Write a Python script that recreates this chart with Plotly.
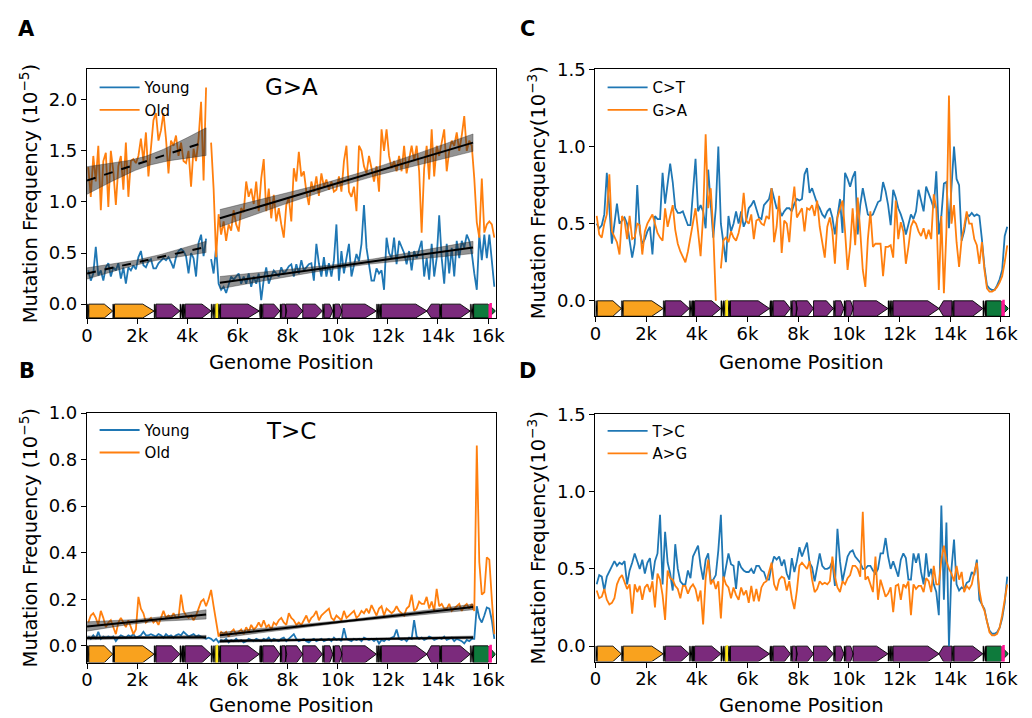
import numpy as np
import plotly.graph_objects as go

FONT = "DejaVu Sans"

# ---------------- data ----------------
POS = list(range(50, 16300, 100))  # bin centres (bp)

A_YOUNG = [0.33, 0.23, 0.30, 0.56, 0.28, 0.33, 0.23, 0.36, 0.40, 0.27,
           0.36, 0.33, 0.40, 0.25, 0.36, 0.20, 0.36, 0.33, 0.38, 0.34,
           0.46, 0.52, 0.38, 0.36, 0.42, 0.44, 0.35, 0.35, 0.40, 0.43,
           0.45, 0.43, 0.46, 0.41, 0.35, 0.46, 0.52, 0.54, 0.52, 0.47,
           0.30, 0.50, 0.45, 0.27, 0.60, 0.68, 0.47, 0.64, None, 0.44,
           0.30, 0.56, 0.20, 0.14, 0.17, 0.11, 0.20, 0.27, 0.24, 0.27,
           0.30, 0.20, 0.27, 0.20, 0.30, 0.17, 0.27, 0.20, 0.30, 0.04,
           0.24, 0.36, 0.20, 0.27, 0.33, 0.30, 0.27, 0.36, 0.30, 0.33,
           0.37, 0.39, 0.27, 0.39, 0.30, 0.43, 0.33, 0.36, 0.39, 0.40,
           0.23, 0.59, 0.40, 0.27, 0.46, 0.27, 0.40, 0.27, 0.43, 0.78,
           0.23, 0.52, 0.30, 0.45, 0.59, 0.27, 0.40, 0.49, 0.42, 0.59,
           0.97, 0.55, 0.39, 0.23, 0.23, 0.35, 0.30, 0.33, 0.14, 0.65,
           0.50, 0.45, 0.65, 0.39, 0.62, 0.55, 0.50, 0.39, 0.52, 0.33,
           0.52, 0.45, 0.55, 0.62, 0.27, 0.45, 0.24, 0.59, 0.27, 0.45,
           0.87, 0.45, 0.20, 0.59, 0.30, 0.55, 0.27, 0.62, 0.45, 0.62,
           0.55, 0.68, 0.62, 0.50, 0.30, 0.14, 0.68, 0.43, 0.68, 0.45,
           0.68, 0.40, 0.17]

A_OLD = [1.34, 1.05, 1.45, 1.20, 1.55, 0.92, 1.40, 1.48, 0.95, 1.50,
         1.30, 0.97, 1.35, 1.45, 1.12, 1.58, 1.05, 1.40, 1.42, 1.38,
         1.45, 1.62, 1.40, 1.68, 1.25, 1.50, 1.80, 1.87, 1.60, 1.70,
         1.87, 1.62, 1.28, 1.60, 1.55, 1.65, 1.45, 1.58, 1.40, 1.38,
         1.50, 1.15, 1.52, 1.40, 1.62, 1.98, 1.21, 2.12, None, 1.58,
         1.13, 0.46, 0.88, 0.68, 0.81, 0.62, 0.78, 0.72, 0.92, 0.78,
         0.71, 0.94, 0.90, 1.20, 1.05, 1.13, 0.98, 1.20, 0.91, 1.23,
         1.42, 0.91, 1.13, 0.84, 1.07, 0.81, 0.94, 0.78, 0.65, 0.97,
         1.04, 0.81, 1.33, 1.20, 1.49, 1.25, 1.30, 1.10, 0.97, 1.20,
         1.10, 1.25, 1.06, 1.28, 1.15, 1.22, 1.12, 1.20, 1.10, 1.12,
         1.25, 1.10, 1.40, 1.55, 1.10, 1.05, 1.15, 0.91, 1.55, 1.50,
         1.35, 1.28, 1.45, 1.33, 1.20, 1.35, 1.10, 1.71, 1.50, 1.71,
         1.45, 1.33, 1.40, 1.30, 1.45, 1.30, 1.55, 1.28, 1.42, 1.55,
         1.40, 1.55, 1.30, 0.70, 1.33, 1.55, 1.22, 1.71, 1.25, 1.55,
         1.45, 1.57, 1.71, 1.30, 1.50, 1.60, 1.55, 1.68, 1.50, 1.65,
         1.84, 1.50, 1.60, 1.55, 1.23, 0.80, 0.65, 1.23, 0.70, 0.78,
         0.81, 0.78, 0.65]

B_YOUNG = [0.04, 0.03, 0.045, 0.03, 0.06, 0.03, 0.04, 0.035, 0.04, 0.035,
           0.04, 0.02, 0.035, 0.045, 0.04, 0.035, 0.045, 0.04, 0.05, 0.035,
           0.04, 0.045, 0.06, 0.045, 0.045, 0.05, 0.045, 0.04, 0.05, 0.045,
           0.035, 0.05, 0.04, 0.045, 0.035, 0.045, 0.05, 0.045, 0.06, 0.05,
           0.04, 0.045, 0.05, 0.04, 0.045, 0.04, 0.035, 0.03, 0.035, 0.03,
           0.02, 0.03, 0.015, 0.025, 0.02, 0.03, 0.015, 0.025, 0.02, 0.03,
           0.02, 0.025, 0.015, 0.02, 0.03, 0.025, 0.02, 0.03, 0.025, 0.02,
           0.03, 0.025, 0.035, 0.02, 0.03, 0.025, 0.02, 0.03, 0.035, 0.02,
           0.03, 0.04, 0.05, 0.03, 0.02, 0.025, 0.03, 0.02, 0.015, 0.025,
           0.03, 0.02, 0.025, 0.03, 0.02, 0.025, 0.03, 0.02, 0.035, 0.025,
           0.03, 0.02, 0.076, 0.03, 0.025, 0.02, 0.03, 0.025, 0.03, 0.02,
           0.035, 0.03, 0.025, 0.03, 0.02, 0.03, 0.01, 0.025, 0.02, 0.03,
           0.025, 0.035, 0.04, 0.07, 0.03, 0.025, 0.03, 0.02, 0.035, 0.03,
           0.11, 0.04, 0.03, 0.035, 0.025, 0.03, 0.04, 0.035, 0.025, 0.03,
           0.035, 0.03, 0.04, 0.025, 0.03, 0.035, 0.02, 0.03, 0.025, 0.02,
           0.01, 0.025, 0.02, 0.03, 0.03, 0.17, 0.12, 0.10, 0.13, 0.165,
           0.16, 0.11, 0.03]

B_OLD = [0.10, 0.13, 0.14, 0.12, 0.09, 0.15, 0.12, 0.08, 0.10, 0.11,
         0.08, 0.05, 0.10, 0.12, 0.10, 0.08, 0.11, 0.08, 0.05, 0.07,
         0.21, 0.16, 0.14, 0.10, 0.11, 0.12, 0.10, 0.11, 0.09, 0.12,
         0.15, 0.12, 0.13, 0.12, 0.14, 0.12, 0.12, 0.22, 0.15, 0.13,
         0.12, 0.13, 0.11, 0.13, 0.16, 0.19, 0.20, 0.17, 0.20, 0.24,
         0.17, 0.10, 0.04, 0.06, 0.05, 0.06, 0.04, 0.06, 0.07, 0.05,
         0.06, 0.07, 0.05, 0.08, 0.06, 0.09, 0.07, 0.08, 0.10, 0.08,
         0.11, 0.08, 0.09, 0.07, 0.10, 0.09, 0.11, 0.12, 0.10, 0.09,
         0.14, 0.12, 0.11, 0.09, 0.10, 0.09, 0.11, 0.13, 0.10, 0.12,
         0.13, 0.15, 0.11, 0.13, 0.14, 0.15, 0.16, 0.12, 0.11, 0.13,
         0.12, 0.11, 0.15, 0.12, 0.13, 0.14, 0.15, 0.12, 0.13, 0.15,
         0.14, 0.16, 0.14, 0.175, 0.15, 0.13, 0.16, 0.17, 0.13, 0.16,
         0.15, 0.14, 0.15, 0.17, 0.15, 0.14, 0.13, 0.16, 0.17, 0.22,
         0.15, 0.16, 0.19, 0.18, 0.18, 0.21, 0.16, 0.19, 0.15, 0.245,
         0.17, 0.18, 0.16, 0.16, 0.18, 0.15, 0.16, 0.17, 0.18, 0.15,
         0.17, 0.18, 0.16, 0.18, 0.15, 0.86, 0.36, 0.22, 0.23, 0.38,
         0.37, 0.20, 0.05]

C_CT = [0.50, 0.47, 0.49, 0.56, 0.83, 0.62, 0.37, 0.50, 0.63, 0.50,
        0.52, 0.54, 0.50, 0.38, 0.28, 0.37, 0.75, 0.45, 0.37, 0.40,
        0.45, 0.48, 0.30, 0.55, 0.53, 0.53, 0.83, 0.63, 0.75, 0.89,
        0.77, 0.60, 0.57, 0.57, 0.58, 0.54, 0.49, 0.49, 0.70, 0.92,
        0.58, 0.62, 0.58, 0.47, 0.85, 0.64, 0.41, 0.60, 1.00, 0.50,
        0.38, 0.25, 0.55, 0.45, 0.50, 0.58, 0.50, 0.58, 0.48, 0.52,
        0.60, 0.62, 0.65, 0.60, 0.54, 0.53, 0.62, 0.64, 0.66, 0.73,
        0.66, 0.60, 0.60, 0.55, 0.58, 0.60, 0.60, 0.58, 0.63, 0.66,
        0.65, 0.66, 0.82, 0.86, 0.70, 0.73, 0.68, 0.63, 0.60, 0.56,
        0.54, 0.58, 0.60, 0.54, 0.43, 0.56, 0.66, 0.44, 0.83, 0.79,
        0.74, 0.80, 0.84, 0.43, 0.62, 0.73, 0.65, 0.56, 0.55, 0.56,
        0.60, 0.64, 0.65, 0.77, 0.71, 0.62, 0.49, 0.72, 0.67, 0.60,
        0.56, 0.51, 0.43, 0.49, 0.56, 0.53, 0.58, 0.72, 0.64, 0.58,
        0.74, 0.70, 0.65, 0.60, 0.84, 0.43, 0.55, 0.76, 0.77, 0.47,
        0.75, 1.00, 0.79, 0.75, 0.39, 0.45, 0.56, 0.55, 0.57, 0.55,
        0.56, 0.55, 0.40, 0.22, 0.10, 0.08, 0.07, 0.07, 0.10, 0.14,
        0.20, 0.42, 0.48]

C_GA = [0.55, 0.43, 0.41, 0.50, 0.56, 0.82, 0.45, 0.42, 0.38, 0.30,
        0.55, 0.52, 0.40, 0.55, 0.40, 0.41, 0.50, 0.49, 0.30, 0.45,
        0.50, 0.53, 0.56, 0.50, 0.44, 0.41, 0.39, 0.60, 0.48, 0.55,
        0.62, 0.46, 0.37, 0.32, 0.28, 0.25, 0.32, 0.42, 0.50, 0.60,
        0.45, 0.29, 0.55, 1.08, 0.60, 0.73, 0.45, 0.00, None, 0.21,
        0.39, 0.41, 0.38, 0.45, 0.41, 0.39, 0.44, 0.52, 0.70, 0.52,
        0.50, 0.56, 0.40, 0.52, 0.53, 0.50, 0.49, 0.55, 0.53, 0.73,
        0.38, 0.48, 0.68, 0.31, 0.52, 0.50, 0.38, 0.60, 0.74, 0.54,
        0.57, 0.60, 0.45, 0.60, 0.59, 0.62, 0.55, 0.65, 0.48, 0.38,
        0.28, 0.48, 0.54, 0.45, 0.24, 0.54, 0.60, 0.65, 0.45, 0.20,
        0.35, 0.60, 0.36, 0.67, 0.45, 0.20, 0.09, 0.40, 0.58, 0.35,
        0.37, 0.37, 0.37, 0.16, 0.35, 0.35, 0.36, 0.28, 0.65, 0.40,
        0.51, 0.45, 0.24, 0.35, 0.48, 0.52, 0.50, 0.45, 0.42, 0.47,
        0.40, 0.46, 0.40, 0.69, 0.60, 0.07, 0.55, 0.05, 0.45, 1.33,
        0.50, 0.62, 0.38, 0.22, 0.40, 0.48, 0.58, 0.50, 0.50, 0.40,
        0.36, 0.24, 0.38, 0.20, 0.08, 0.06, 0.06, 0.07, 0.09, 0.12,
        0.16, 0.25, 0.36]

D_TC = [0.40, 0.46, 0.45, 0.36, 0.45, 0.48, 0.51, 0.55, 0.52, 0.54,
        0.53, 0.55, 0.40, 0.49, 0.54, 0.60, 0.55, 0.50, 0.56, 0.47,
        0.54, 0.57, 0.43, 0.55, 0.60, 0.85, 0.40, 0.74, 0.54, 0.47,
        0.36, 0.66, 0.50, 0.42, 0.40, 0.40, 0.49, 0.44, 0.58, 0.62,
        0.65, 0.52, 0.43, 0.56, 0.60, 0.42, 0.43, 0.46, 0.62, 0.85,
        0.42, 0.51, 0.60, 0.53, 0.52, 0.37, 0.55, 0.51, 0.49, 0.48,
        0.48, 0.50, 0.47, 0.52, 0.52, 0.49, 0.48, 0.43, 0.43, 0.52,
        0.58, 0.56, 0.58, 0.52, 0.56, 0.47, 0.43, 0.57, 0.48, 0.55,
        0.64, 0.58, 0.63, 0.67, 0.54, 0.51, 0.42, 0.52, 0.60, 0.52,
        0.50, 0.50, 0.51, 0.55, 0.39, 0.76, 0.55, 0.42, 0.50, 0.58,
        0.61, 0.62, 0.58, 0.56, 0.54, 0.50, 0.50, 0.52, 0.52, 0.49,
        0.47, 0.50, 0.60, 0.60, 0.70, 0.58, 0.50, 0.55, 0.50, 0.45,
        0.56, 0.60, 0.57, 0.43, 0.43, 0.60, 0.54, 0.60, 0.48, 0.40,
        0.60, 0.45, 0.50, 0.40, 0.35, 0.20, 0.91, 0.30, 0.80, 0.00,
        0.50, 0.69, 0.40, 0.36, 0.38, 0.37, 0.41, 0.42, 0.48, 0.46,
        0.56, 0.30, 0.27, 0.24, 0.16, 0.10, 0.08, 0.08, 0.09, 0.12,
        0.18, 0.28, 0.45]

D_AG = [0.36, 0.31, 0.32, 0.37, 0.30, 0.27, 0.28, 0.31, 0.40, 0.44,
        0.46, 0.42, 0.37, 0.40, 0.21, 0.40, 0.35, 0.39, 0.30, 0.38,
        0.40, 0.35, 0.42, 0.25, 0.47, 0.43, 0.33, 0.17, 0.49, 0.44,
        0.43, 0.39, 0.37, 0.31, 0.39, 0.39, 0.34, 0.38, 0.40, 0.37,
        0.29, 0.36, 0.14, 0.44, 0.56, 0.40, 0.43, 0.37, 0.42, 0.18,
        0.45, 0.40, 0.38, 0.31, 0.38, 0.33, 0.30, 0.38, 0.33, 0.36,
        0.28, 0.39, 0.29, 0.37, 0.29, 0.38, 0.41, 0.42, 0.48, 0.54,
        0.40, 0.36, 0.43, 0.45, 0.44, 0.36, 0.42, 0.31, 0.24, 0.36,
        0.52, 0.54, 0.52, 0.50, 0.55, 0.43, 0.35, 0.37, 0.42, 0.40,
        0.41, 0.40, 0.42, 0.58, 0.45, 0.38, 0.35, 0.42, 0.40, 0.44,
        0.46, 0.52, 0.52, 0.50, 0.45, 0.87, 0.43, 0.45, 0.40, 0.35,
        0.58, 0.30, 0.43, 0.38, 0.32, 0.34, 0.38, 0.22, 0.39, 0.40,
        0.30, 0.40, 0.38, 0.42, 0.20, 0.40, 0.37, 0.39, 0.39, 0.35,
        0.44, 0.42, 0.35, 0.52, 0.40, 0.40, 0.56, 0.65, 0.55, 0.50,
        0.47, 0.42, 0.52, 0.43, 0.48, 0.35, 0.39, 0.37, 0.40, 0.48,
        0.54, 0.36, 0.27, 0.23, 0.16, 0.09, 0.07, 0.07, 0.08, 0.12,
        0.20, 0.30, 0.40]

for _s in (A_YOUNG, A_OLD, B_YOUNG, B_OLD, C_CT, C_GA, D_TC, D_AG):
    assert len(_s) == len(POS), len(_s)

# regression segments (start, end in bp) and fitted values / CI half-widths (end, middle)
FIT_SEG_X = [[0, 4750], [5300, 15400]]
A_YOUNG_FIT = [[0.30, 0.56], [0.21, 0.555]]
A_OLD_FIT = [[1.21, 1.59], [0.84, 1.58]]
A_YOUNG_CI = [[0.055, 0.022], [0.06, 0.02]]
A_OLD_CI = [[0.135, 0.05], [0.085, 0.035]]
B_YOUNG_FIT = [[0.034, 0.037], [0.02, 0.036]]
B_OLD_FIT = [[0.083, 0.135], [0.045, 0.167]]
B_YOUNG_CI = [[0.008, 0.004], [0.006, 0.003]]
B_OLD_CI = [[0.02, 0.008], [0.012, 0.005]]

# mitochondrial genome features
GENE_NAME = ["tRNA-Phe", "12S rRNA", "tRNA-Val", "16S rRNA", "tRNA-Leu1", "ND1",
             "tRNA-Ile", "tRNA-Gln", "tRNA-Met", "ND2", "tRNA-Trp", "tRNA-Ala",
             "tRNA-Asn", "OL", "tRNA-Cys", "tRNA-Tyr", "COX1", "tRNA-Ser1",
             "tRNA-Asp", "COX2", "tRNA-Lys", "ATP8", "ATP6", "COX3", "tRNA-Gly",
             "ND3", "tRNA-Arg", "ND4L", "ND4", "tRNA-His", "tRNA-Ser2",
             "tRNA-Leu2", "ND5", "ND6", "tRNA-Glu", "CYTB", "tRNA-Thr",
             "tRNA-Pro", "D-loop", "CSB"]
GENE_START = [1, 70, 1025, 1094, 2676, 2751, 3706, 3772, 3845, 3914, 4950, 5018,
              5089, 5160, 5192, 5259, 5328, 6870, 6942, 7013, 7700, 7766, 7927,
              8607, 9391, 9459, 9808, 9877, 10167, 11545, 11614, 11673, 11742,
              13552, 14071, 14145, 15289, 15356, 15423, 16060]
GENE_END = [68, 1024, 1093, 2675, 2750, 3707, 3774, 3842, 3913, 4951, 5016, 5086,
            5159, 5191, 5257, 5326, 6872, 6938, 7009, 7696, 7764, 7969, 8607,
            9390, 9458, 9806, 9875, 10173, 11544, 11613, 11672, 11742, 13565,
            14070, 14139, 15288, 15355, 15422, 16299, 16110]
GENE_STRAND = [1, 1, 1, 1, 1, 1, 1, -1, 1, 1, 1, -1, -1, 0, -1, -1, 1, -1, 1, 1,
               1, 1, 1, 1, 1, 1, 1, 1, 1, 1, 1, 1, 1, -1, -1, 1, 1, -1, 1, 0]
GENE_TYPE = ["tRNA", "rRNA", "tRNA", "rRNA", "tRNA", "CDS", "tRNA", "tRNA", "tRNA",
             "CDS", "tRNA", "tRNA", "tRNA", "OL", "tRNA", "tRNA", "CDS", "tRNA",
             "tRNA", "CDS", "tRNA", "CDS", "CDS", "CDS", "tRNA", "CDS", "tRNA",
             "CDS", "CDS", "tRNA", "tRNA", "tRNA", "CDS", "CDS", "tRNA", "CDS",
             "tRNA", "tRNA", "Dloop", "CSB"]

X_TICKS = [0, 2000, 4000, 6000, 8000, 10000, 12000, 14000, 16000]
X_TICK_TEXT = ["0", "2k", "4k", "6k", "8k", "10k", "12k", "14k", "16k"]

# ---------------- style ----------------
BLUE = "#1f77b4"
ORANGE = "#ff7f0e"
TYPE_STYLE = {
    "rRNA": ("#F9A21E", "black", 0.9),
    "CDS": ("#7B2A7C", "black", 0.9),
    "Dloop": ("#0E7A3C", "black", 0.9),
    "tRNA": ("black", "black", 0.4),
    "OL": ("#FFE81A", "#FFE81A", 2.0),
    "CSB": ("#FF1493", "#FF1493", 2.2),
}
W, H = 1032, 718
PANELS = {
    # key: (xaxis id, yaxis id, x px range, y px range (top,bottom), y range)
    "A": ("x", "y", (82.3, 497.3), (59.3, 311.7), (-0.135, 2.297)),
    "C": ("x2", "y2", (598.7, 1018.3), (59.3, 310.0), (-0.1, 1.5)),
    "B": ("x3", "y3", (82.3, 497.3), (408.3, 661.7), (-0.072, 1.0)),
    "D": ("x4", "y4", (598.7, 1018.3), (409.7, 660.7), (-0.1, 1.5)),
}
X_RANGE = [0, 16300]

fig = go.Figure()


def gene_polys(top, bot):
    mid = (top + bot) / 2
    out = {}
    for s, e, st, t in zip(GENE_START, GENE_END, GENE_STRAND, GENE_TYPE):
        L = e - s
        h = min(0.35 * L, 450)
        if st > 0:
            px = [s, e - h, e, e - h, s, s]
            py = [top, top, mid, bot, bot, top]
        elif st < 0:
            px = [e, s + h, s, s + h, e, e]
            py = [top, top, mid, bot, bot, top]
        else:
            px = [s, e, e, s, s]
            py = [top, top, bot, bot, top]
        xs, ys = out.setdefault(t, ([], []))
        xs.extend(px + [None])
        ys.extend(py + [None])
    return out


def add_genes(xa, ya, ymin):
    polys = gene_polys(0.0, ymin)
    for t in ["rRNA", "CDS", "Dloop", "tRNA", "OL", "CSB"]:
        xs, ys = polys[t]
        fc, lc, lw = TYPE_STYLE[t]
        fig.add_trace(go.Scatter(x=xs, y=ys, mode="lines", fill="toself",
                                 fillcolor=fc, line=dict(color=lc, width=lw),
                                 showlegend=False, hoverinfo="skip",
                                 xaxis=xa, yaxis=ya))


def add_series(xa, ya, y, name, color, legend):
    fig.add_trace(go.Scatter(x=POS, y=y, mode="lines", name=name,
                             line=dict(color=color, width=1.8),
                             xaxis=xa, yaxis=ya, legend=legend))


def add_fit(xa, ya, seg, fit, ci, dash):
    x0, x1 = seg
    y0, y1 = fit
    ce, cm = ci
    xs = np.linspace(x0, x1, 60)
    t = (xs - (x0 + x1) / 2) / ((x1 - x0) / 2)
    hw = np.sqrt(cm ** 2 + (ce ** 2 - cm ** 2) * t ** 2)
    yl = y0 + (y1 - y0) * (xs - x0) / (x1 - x0)
    fig.add_trace(go.Scatter(x=np.concatenate([xs, xs[::-1]]),
                             y=np.concatenate([yl + hw, (yl - hw)[::-1]]),
                             mode="lines", fill="toself",
                             fillcolor="rgba(40,40,40,0.5)",
                             line=dict(color="rgba(40,40,40,0.6)", width=0.6),
                             showlegend=False, hoverinfo="skip",
                             xaxis=xa, yaxis=ya))
    fig.add_trace(go.Scatter(x=[x0, x1], y=[y0, y1], mode="lines",
                             line=dict(color="black", width=2, dash=dash),
                             showlegend=False, hoverinfo="skip",
                             xaxis=xa, yaxis=ya))


# Panel A
xa, ya = "x", "y"
add_genes(xa, ya, PANELS["A"][4][0])
add_series(xa, ya, A_YOUNG, "Young", BLUE, "legend")
add_series(xa, ya, A_OLD, "Old", ORANGE, "legend")
for i, dash in enumerate(["dash", "solid"]):
    add_fit(xa, ya, FIT_SEG_X[i], A_OLD_FIT[i], A_OLD_CI[i], dash)
    add_fit(xa, ya, FIT_SEG_X[i], A_YOUNG_FIT[i], A_YOUNG_CI[i], dash)

# Panel C
xa, ya = "x2", "y2"
add_genes(xa, ya, PANELS["C"][4][0])
add_series(xa, ya, C_CT, "C>T", BLUE, "legend2")
add_series(xa, ya, C_GA, "G>A", ORANGE, "legend2")

# Panel B
xa, ya = "x3", "y3"
add_genes(xa, ya, PANELS["B"][4][0])
add_series(xa, ya, B_YOUNG, "Young", BLUE, "legend3")
add_series(xa, ya, B_OLD, "Old", ORANGE, "legend3")
for i in range(2):
    add_fit(xa, ya, FIT_SEG_X[i], B_OLD_FIT[i], B_OLD_CI[i], "solid")
    add_fit(xa, ya, FIT_SEG_X[i], B_YOUNG_FIT[i], B_YOUNG_CI[i], "solid")

# Panel D
xa, ya = "x4", "y4"
add_genes(xa, ya, PANELS["D"][4][0])
add_series(xa, ya, D_TC, "T>C", BLUE, "legend4")
add_series(xa, ya, D_AG, "A>G", ORANGE, "legend4")


def px2fx(p):
    return p / W


def py2fy(p):
    return 1 - p / H


axis_common = dict(showline=True, mirror=True, linecolor="black", linewidth=1.2,
                   ticks="outside", ticklen=5, tickwidth=1.2, tickcolor="black",
                   showgrid=False, zeroline=False,
                   tickfont=dict(family=FONT, size=18, color="black"))

layout = dict(width=W, height=H, margin=dict(l=0, r=0, t=0, b=0),
              paper_bgcolor="white", plot_bgcolor="white",
              font=dict(family=FONT, size=15, color="black"), hovermode=False)

y_ticks = {"A": [0, 0.5, 1.0, 1.5, 2.0], "C": [0, 0.5, 1.0, 1.5],
           "B": [0, 0.2, 0.4, 0.6, 0.8, 1.0], "D": [0, 0.5, 1.0, 1.5]}
for key, (xa, ya, (xl, xr), (yt, yb), yr) in PANELS.items():
    xname = "xaxis" if xa == "x" else "xaxis" + xa[1:]
    yname = "yaxis" if ya == "y" else "yaxis" + ya[1:]
    layout[xname] = dict(axis_common, domain=[px2fx(xl), px2fx(xr)], range=X_RANGE,
                         tickvals=X_TICKS, ticktext=X_TICK_TEXT, anchor=ya,
                         ticklabelstandoff=-4)
    layout[yname] = dict(axis_common, domain=[py2fy(yb), py2fy(yt)], range=list(yr),
                         tickvals=y_ticks[key], tickformat=".1f", anchor=xa)

leg_common = dict(xanchor="left", yanchor="top", bgcolor="rgba(0,0,0,0)",
                  font=dict(family=FONT, size=15, color="black"),
                  itemwidth=40, tracegroupgap=0)
layout["legend"] = dict(leg_common, x=px2fx(90), y=py2fy(61))
layout["legend2"] = dict(leg_common, x=px2fx(606), y=py2fy(61))
layout["legend3"] = dict(leg_common, x=px2fx(90), y=py2fy(409))
layout["legend4"] = dict(leg_common, x=px2fx(606), y=py2fy(410))

ann = []
for letter, (x, y) in {"A": (21, 18), "C": (530, 18), "B": (21, 366), "D": (530, 366)}.items():
    ann.append(dict(text="<b>%s</b>" % letter, x=px2fx(x), y=py2fy(y), xref="paper",
                    yref="paper", showarrow=False, xanchor="center", yanchor="middle",
                    font=dict(family=FONT, size=21, color="black")))
for xc, yc in [(289.8, 357), (808.5, 357), (289.8, 705), (808.5, 705)]:
    ann.append(dict(text="Genome Position", x=px2fx(xc), y=py2fy(yc), xref="paper",
                    yref="paper", showarrow=False, xanchor="center", yanchor="middle",
                    font=dict(family=FONT, size=19.5, color="black")))
for xc, yc, txt in [(23, 185.5, "Mutation Frequency (10<sup>\u22125</sup>)"),
                    (539, 184.5, "Mutation Frequency(10<sup>\u22123</sup>)"),
                    (23, 535, "Mutation Frequency (10<sup>\u22125</sup>)"),
                    (539, 535, "Mutation Frequency(10<sup>\u22123</sup>)")]:
    ann.append(dict(text=txt, x=px2fx(xc), y=py2fy(yc), xref="paper", yref="paper",
                    showarrow=False, xanchor="center", yanchor="middle", textangle=-90,
                    font=dict(family=FONT, size=19.5, color="black")))
ann.append(dict(text="G>A", x=8160, y=2.12, xref="x", yref="y", showarrow=False,
                xanchor="center", yanchor="middle",
                font=dict(family=FONT, size=23, color="black")))
ann.append(dict(text="T>C", x=8140, y=0.925, xref="x3", yref="y3", showarrow=False,
                xanchor="center", yanchor="middle",
                font=dict(family=FONT, size=23, color="black")))
layout["annotations"] = ann

fig.update_layout(**layout)
fig.write_html("out.html")
